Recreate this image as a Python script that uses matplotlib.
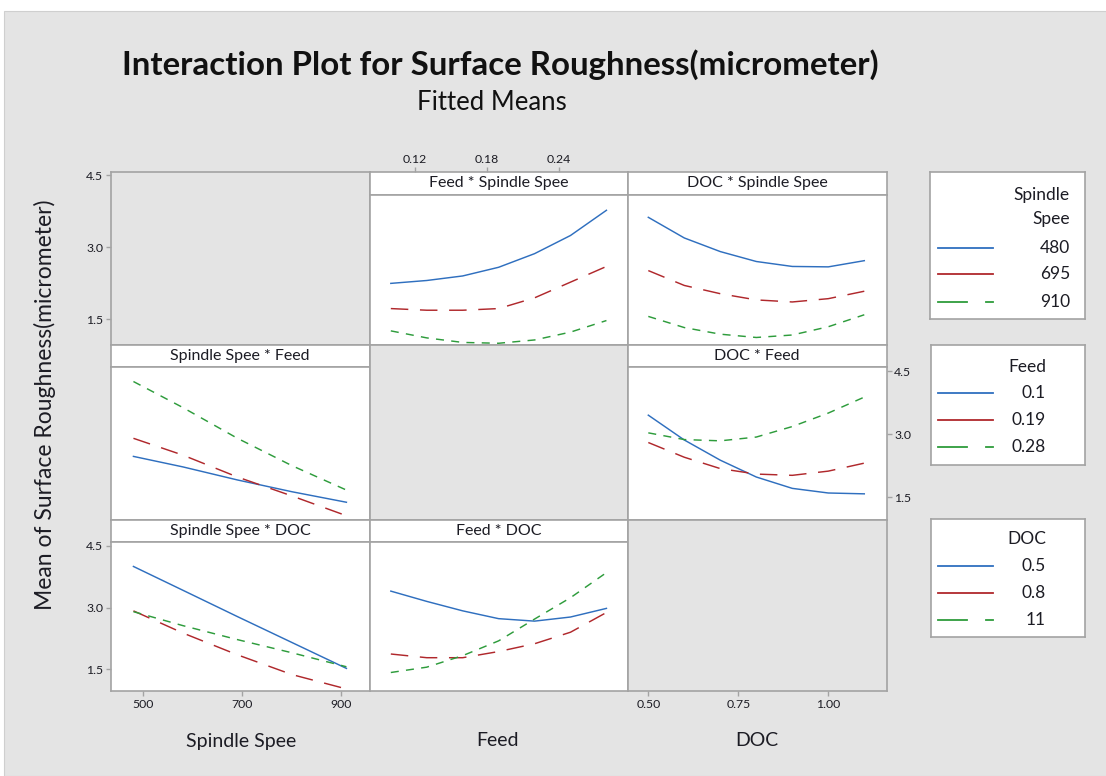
import matplotlib
matplotlib.use("Agg")
import matplotlib.pyplot as plt
from matplotlib.patches import Rectangle
from matplotlib.lines import Line2D

plt.rcParams['font.family'] = ['Lato', 'DejaVu Sans']

# factor levels (legend)
spindle_levels = ["480", "695", "910"]
feed_levels = ["0.1", "0.19", "0.28"]
doc_levels = ["0.5", "0.8", "11"]

# x positions where fitted means were read
spindle_x = [480, 580, 690, 800, 910]
feed_x = [0.10, 0.13, 0.16, 0.19, 0.22, 0.25, 0.28]
doc_x = [0.5, 0.6, 0.7, 0.8, 0.9, 1.0, 1.1]

# fitted means, one row per trace level
feed_spindle = [[2.45, 2.52, 2.63, 2.84, 3.17, 3.61, 4.22],
                [1.84, 1.80, 1.80, 1.84, 2.10, 2.48, 2.86],
                [1.30, 1.13, 1.02, 1.00, 1.08, 1.27, 1.55]]
doc_spindle = [[4.05, 3.55, 3.22, 2.98, 2.86, 2.85, 3.00],
               [2.76, 2.40, 2.20, 2.05, 2.00, 2.08, 2.26],
               [1.65, 1.38, 1.22, 1.14, 1.20, 1.40, 1.69]]
spindle_feed = [[2.47, 2.22, 1.91, 1.63, 1.38],
                [2.90, 2.50, 1.98, 1.53, 1.06],
                [4.25, 3.63, 2.90, 2.25, 1.67]]
doc_feed = [[3.45, 2.86, 2.38, 1.98, 1.71, 1.60, 1.58],
            [2.80, 2.45, 2.18, 2.05, 2.02, 2.12, 2.31],
            [3.03, 2.87, 2.84, 2.93, 3.18, 3.50, 3.88]]
spindle_doc = [[4.00, 3.42, 2.78, 2.15, 1.52],
               [2.92, 2.38, 1.85, 1.37, 1.02],
               [2.90, 2.56, 2.22, 1.90, 1.56]]
feed_doc = [[3.40, 3.15, 2.92, 2.73, 2.67, 2.77, 2.98],
            [1.87, 1.78, 1.78, 1.93, 2.12, 2.40, 2.88],
            [1.42, 1.55, 1.83, 2.19, 2.72, 3.24, 3.85]]

names = ["Spindle Spee", "Feed", "DOC"]
xs = [spindle_x, feed_x, doc_x]
xlims = [(434.7, 956.6), (0.0822, 0.298), (0.4436, 1.1617)]
xticks = [([500, 700, 900], ["500", "700", "900"]),
          ([0.12, 0.18, 0.24], ["0.12", "0.18", "0.24"]),
          ([0.5, 0.75, 1.0], ["0.50", "0.75", "1.00"])]
yticks = [1.5, 3.0, 4.5]
ylab = ["1.5", "3.0", "4.5"]
ylim = (0.97, 4.6)
# [row][col] -> means (row = trace factor, col = x factor)
means = {(0, 1): feed_spindle, (0, 2): doc_spindle,
         (1, 0): spindle_feed, (1, 2): doc_feed,
         (2, 0): spindle_doc, (2, 1): feed_doc}

colors = ['#2f6fbf', '#b0282c', '#2e9c3c']
BG = '#e4e4e4'
EDGE = '#a3a3a3'
TXT = '#1c1c24'

W, H = 1106, 776
fig = plt.figure(figsize=(W / 100, H / 100), dpi=100, facecolor='white')
fig.patches.append(Rectangle((4 / W, 0), 1, 1 - 11 / H, transform=fig.transFigure,
                             facecolor=BG, edgecolor='#cfcfcf', lw=0.8, zorder=-5))


def box(x0, y0, x1, y1):
    return [x0 / W, 1 - y1 / H, (x1 - x0) / W, (y1 - y0) / H]


def frame(ax, fc):
    ax.set_facecolor(fc)
    for s in ax.spines.values():
        s.set_color(EDGE)
        s.set_linewidth(1.2)
    ax.tick_params(which='both', length=0, labelleft=False, labelbottom=False)
    ax.set_xticks([])
    ax.set_yticks([])


def style_ticks(ax, axis):
    ax.tick_params(axis=axis, length=3.5, width=1, color=EDGE, labelsize=8.8,
                   labelcolor=TXT, pad=2)


col_x = [111, 369.5, 628, 886.5]
row_y = [172.3, 344.5, 519.5, 691]
hdr = 22.3

for i in range(3):
    for j in range(3):
        x0, x1 = col_x[j], col_x[j + 1]
        y0, y1 = row_y[i], row_y[i + 1]
        if i == j:
            ax = fig.add_axes(box(x0, y0, x1, y1))
            frame(ax, BG)
            if i == 0:
                ax.set_ylim(0.968, 4.563)
                ax.set_yticks(yticks, ylab)
                style_ticks(ax, 'y')
                ax.tick_params(axis='y', labelleft=True)
            if i == 2:
                ax.set_xlim(*xlims[2])
                ax.set_xticks(*xticks[2])
                style_ticks(ax, 'x')
                ax.tick_params(axis='x', labelbottom=True)
            continue
        hx = fig.add_axes(box(x0, y0, x1, y0 + hdr))
        frame(hx, 'white')
        hx.text(0.5, 0.5, names[j] + " * " + names[i], ha='center', va='center',
                fontsize=11.5, color=TXT, transform=hx.transAxes)
        if i == 0 and j == 1:
            hx.set_xlim(*xlims[1])
            hx.set_xticks(*xticks[1])
            hx.xaxis.tick_top()
            style_ticks(hx, 'x')
            hx.tick_params(axis='x', labeltop=True, labelbottom=False)
        ax = fig.add_axes(box(x0, y0 + hdr, x1, y1))
        frame(ax, 'white')
        ax.set_xlim(*xlims[j])
        ax.set_ylim(*ylim)
        vals = means[(i, j)]
        ax.plot(xs[j], vals[0], color=colors[0], lw=1.05)
        ax.plot(xs[j], vals[1], color=colors[1], lw=1.05, dashes=(12, 8))
        ax.plot(xs[j], vals[2], color=colors[2], lw=1.05, dashes=(5.5, 5))
        if i == 2 and j == 0:
            ax.set_yticks(yticks, ylab)
            ax.set_xticks(*xticks[0])
            style_ticks(ax, 'y')
            style_ticks(ax, 'x')
            ax.tick_params(labelleft=True, labelbottom=True)
        if i == 1 and j == 2:
            ax.set_yticks(yticks, ylab)
            ax.yaxis.tick_right()
            style_ticks(ax, 'y')
            ax.tick_params(axis='y', labelright=True, labelleft=False)

# axis titles under the columns
for name, cx in zip(names, [241, 498, 757]):
    fig.text(cx / W, 1 - 741 / H, name, ha='center', va='center',
             fontsize=14, color=TXT)

# legends
legends = [(["Spindle", "Spee"], spindle_levels, (930, 172.3, 1085, 319), 1070,
            [195, 219], [248, 274, 302]),
           (["Feed"], feed_levels, (931, 345, 1085, 465), 1046,
            [367], [393, 420, 447]),
           (["DOC"], doc_levels, (931, 519.3, 1085, 636.7), 1046,
            [539], [566, 593, 620])]
for title, labels, (bx0, by0, bx1, by1), rx, ty, ey in legends:
    lax = fig.add_axes(box(bx0, by0, bx1, by1))
    frame(lax, 'white')
    lax.set_xlim(bx0, bx1)
    lax.set_ylim(by1, by0)
    for t, yy in zip(title, ty):
        lax.text(rx, yy, t, ha='right', va='center', fontsize=12.5, color=TXT)
    for k, (lab, yy) in enumerate(zip(labels, ey)):
        lax.text(rx, yy, lab, ha='right', va='center', fontsize=12.5, color=TXT)
        if k < 2:
            lax.add_line(Line2D([938, 993], [yy, yy], color=colors[k], lw=1.3))
        else:
            lax.add_line(Line2D([938, 967], [yy, yy], color=colors[k], lw=1.3))
            lax.add_line(Line2D([986, 993], [yy, yy], color=colors[k], lw=1.3))

fig.text(500 / W, 1 - 65 / H, "Interaction Plot for Surface Roughness(micrometer)",
         ha='center', va='center', fontsize=23.8, fontweight='bold', color='#111111')
fig.text(492 / W, 1 - 102 / H, "Fitted Means", ha='center', va='center',
         fontsize=18.5, color='#111111')
fig.text(45 / W, 1 - 405 / H, "Mean of Surface Roughness(micrometer)", ha='center',
         va='center', rotation=90, fontsize=16.5, color=TXT)

fig.savefig("out.png", dpi=100, facecolor=fig.get_facecolor())
